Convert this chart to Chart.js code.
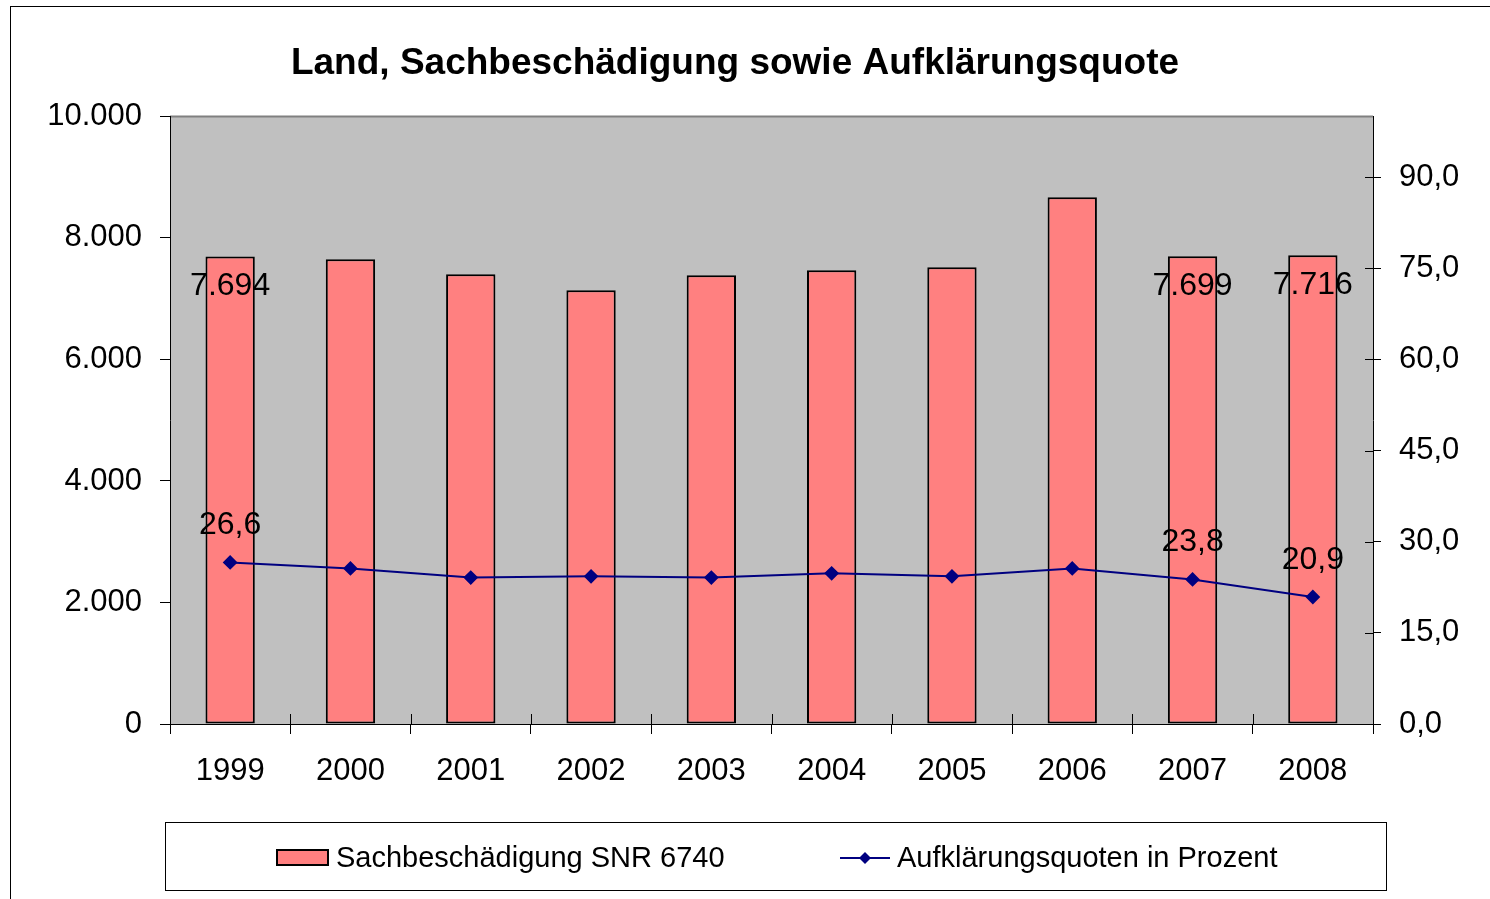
<!DOCTYPE html>
<html>
<head>
<meta charset="utf-8">
<script src="https://cdn.jsdelivr.net/npm/chart.js@4/dist/chart.umd.min.js"></script>
<style>
  html, body { margin: 0; padding: 0; background: #fff; }
</style>
</head>
<body>
<canvas id="chart" width="1490" height="899"></canvas>
<script>
var years = ["1999", "2000", "2001", "2002", "2003", "2004", "2005", "2006", "2007", "2008"];
var sachbeschaedigung = [7694, 7648, 7401, 7138, 7385, 7467, 7516, 8668, 7699, 7716];
var quoten = [26.6, 25.6, 24.1, 24.3, 24.1, 24.8, 24.3, 25.6, 23.8, 20.9];
var leftTicks = [0, 2000, 4000, 6000, 8000, 10000];
var rightTicks = [0, 15, 30, 45, 60, 75, 90];
var labelIndex = [0, 8, 9];

var FONT = "'Liberation Sans', Arial, sans-serif";
Chart.defaults.font.family = FONT;
Chart.defaults.color = '#000';

function thousands(v) {
    return String(v).replace(/\B(?=(\d{3})+(?!\d))/g, '.');
}
function komma(v) {
    return v.toFixed(1).replace('.', ',');
}

// grey plot area + outer frame
var background = {
    id: 'background',
    beforeDraw: function (chart) {
        var ctx = chart.ctx, a = chart.chartArea;
        ctx.save();
        ctx.fillStyle = '#c0c0c0';
        ctx.fillRect(a.left, a.top, a.right - a.left, a.bottom - a.top);
        ctx.strokeStyle = '#808080';
        ctx.lineWidth = 2;
        ctx.beginPath();
        ctx.moveTo(a.left, a.top);
        ctx.lineTo(a.right, a.top);
        ctx.stroke();
        ctx.strokeStyle = '#000';
        ctx.lineWidth = 1;
        ctx.strokeRect(10.5, 6.5, 1600, 1000);
        ctx.restore();
    },
    afterDraw: function (chart) {
        // inner halves of the crossing tick marks
        var ctx = chart.ctx, a = chart.chartArea;
        var x = chart.scales.x, y1 = chart.scales.y1;
        ctx.save();
        ctx.strokeStyle = '#000';
        ctx.lineWidth = 1;
        ctx.beginPath();
        for (var i = 1; i < years.length; i++) {
            var px = Math.round((x.getPixelForTick(i - 1) + x.getPixelForTick(i)) / 2) + 0.5;
            ctx.moveTo(px, a.bottom - 10);
            ctx.lineTo(px, a.bottom);
        }
        rightTicks.forEach(function (t) {
            var py = Math.round(y1.getPixelForValue(t)) + 0.5;
            ctx.moveTo(a.right - 8, py);
            ctx.lineTo(a.right, py);
        });
        ctx.stroke();
        ctx.restore();
    }
};

// value labels for the first and the last two years
var valueLabels = {
    id: 'valueLabels',
    afterDatasetsDraw: function (chart) {
        var ctx = chart.ctx;
        var bars = chart.getDatasetMeta(0).data;
        var points = chart.getDatasetMeta(1).data;
        ctx.save();
        ctx.font = '32px ' + FONT;
        ctx.fillStyle = '#000';
        ctx.textAlign = 'center';
        ctx.textBaseline = 'middle';
        labelIndex.forEach(function (i) {
            ctx.fillText(thousands(sachbeschaedigung[i]), bars[i].x, bars[i].y + 30);
            ctx.fillText(komma(quoten[i]), points[i].x, points[i].y - 37);
        });
        ctx.restore();
    }
};

// framed legend under the axis
var legendBox = {
    id: 'legendBox',
    afterDraw: function (chart) {
        var ctx = chart.ctx, a = chart.chartArea;
        var top = a.bottom + 98, left = a.left - 5, w = a.right - a.left + 18, h = 68;
        var cy = top + 36;
        ctx.save();
        ctx.strokeStyle = '#000';
        ctx.lineWidth = 1;
        ctx.strokeRect(left + 0.5, top + 0.5, w, h);

        ctx.fillStyle = '#ff8080';
        ctx.lineWidth = 2;
        ctx.fillRect(left + 112, cy - 8, 51, 15);
        ctx.strokeRect(left + 112, cy - 8, 51, 15);

        ctx.font = '29px ' + FONT;
        ctx.fillStyle = '#000';
        ctx.textBaseline = 'middle';
        ctx.textAlign = 'left';
        ctx.fillText(chart.data.datasets[0].label, left + 171, cy + 1);

        ctx.strokeStyle = '#000080';
        ctx.beginPath();
        ctx.moveTo(left + 675, cy);
        ctx.lineTo(left + 725, cy);
        ctx.stroke();
        ctx.fillStyle = '#000080';
        ctx.beginPath();
        ctx.moveTo(left + 700, cy - 6);
        ctx.lineTo(left + 706, cy);
        ctx.lineTo(left + 700, cy + 6);
        ctx.lineTo(left + 694, cy);
        ctx.closePath();
        ctx.fill();

        ctx.fillStyle = '#000';
        ctx.fillText(chart.data.datasets[1].label, left + 732, cy + 1);
        ctx.restore();
    }
};

var ctx = document.getElementById("chart");
var chart = new Chart(ctx, {
    type: 'bar',
    data: {
        labels: years,
        datasets: [{
            type: 'bar',
            label: 'Sachbeschädigung SNR 6740',
            data: sachbeschaedigung,
            yAxisID: 'y',
            backgroundColor: '#ff8080',
            borderColor: '#000',
            borderWidth: 2,
            borderSkipped: false,
            categoryPercentage: 1,
            barPercentage: 0.41,
            order: 1
        }, {
            type: 'line',
            label: 'Aufklärungsquoten in Prozent',
            data: quoten,
            yAxisID: 'y1',
            borderColor: '#000080',
            backgroundColor: '#000080',
            borderWidth: 2,
            pointStyle: 'rectRot',
            pointRadius: 6,
            pointHoverRadius: 6,
            tension: 0,
            order: 0
        }]
    },
    options: {
        responsive: false,
        devicePixelRatio: 1,
        animation: false,
        layout: { padding: { left: 10, right: 30, top: 0, bottom: 0 } },
        plugins: {
            legend: { display: false },
            tooltip: { enabled: false },
            title: {
                display: true,
                text: 'Land, Sachbeschädigung sowie Aufklärungsquote',
                font: { size: 37, weight: 'bold' },
                color: '#000',
                padding: { top: 42, bottom: 30 }
            }
        },
        scales: {
            x: {
                offset: true,
                grid: { offset: true, drawOnChartArea: false, drawTicks: true, tickLength: 10, color: '#000' },
                border: { display: true, color: '#000', width: 1 },
                ticks: { font: { size: 31 }, color: '#000', padding: 19, maxRotation: 0 },
                afterFit: function (s) { s.height = 175; }
            },
            y: {
                position: 'left',
                min: 0,
                max: 10000,
                afterBuildTicks: function (s) { s.ticks = leftTicks.map(function (v) { return { value: v }; }); },
                ticks: { font: { size: 31 }, color: '#000', padding: 18, callback: function (v) { return thousands(v); } },
                grid: { drawOnChartArea: false, tickLength: 10, color: '#000' },
                border: { display: true, color: '#000', width: 1 },
                afterFit: function (s) { s.width = 160; }
            },
            y1: {
                position: 'right',
                min: 0,
                max: 100,
                afterBuildTicks: function (s) { s.ticks = rightTicks.map(function (v) { return { value: v }; }); },
                ticks: { font: { size: 31 }, color: '#000', padding: 18, callback: function (v) { return komma(v); } },
                grid: { drawOnChartArea: false, tickLength: 8, color: '#000' },
                border: { display: true, color: '#000', width: 1 },
                afterFit: function (s) { s.width = 87; }
            }
        }
    },
    plugins: [background, valueLabels, legendBox]
});
</script>
</body>
</html>
